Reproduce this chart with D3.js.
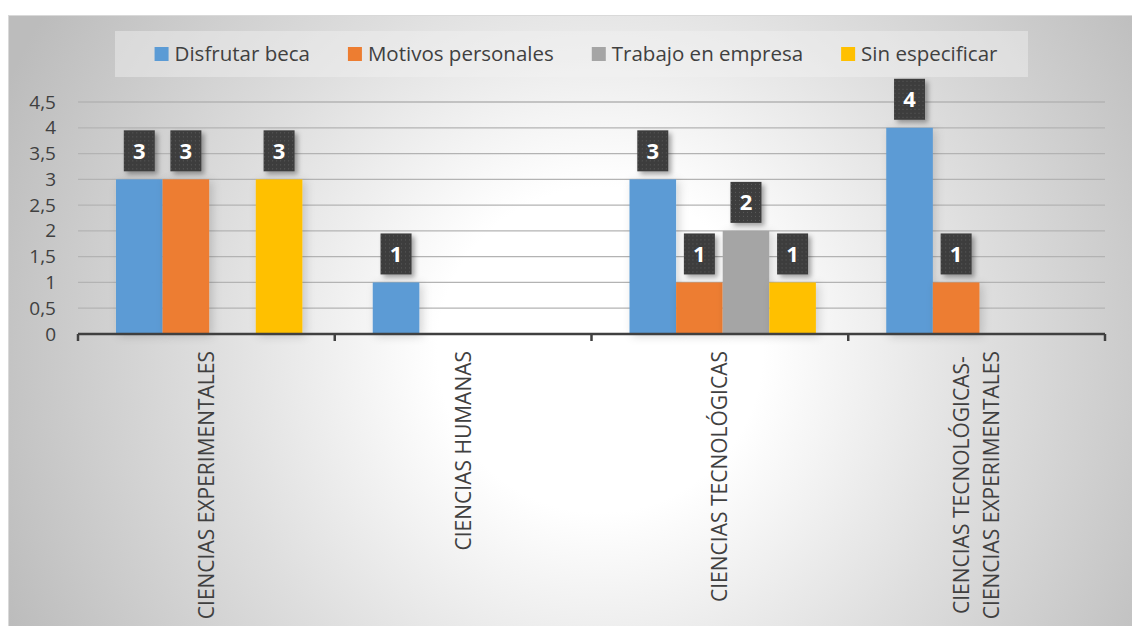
<!DOCTYPE html>
<html>
<head>
<meta charset="utf-8">
<script src="https://cdn.jsdelivr.net/npm/d3@7"></script>
<style>
  html, body { margin: 0; padding: 0; background: #fff; }
  svg { display: block; }
  text { font-family: "Open Sans", sans-serif; }
</style>
</head>
<body>
<div id="chart"></div>
<script>
// data
var categories = ["CIENCIAS EXPERIMENTALES", "CIENCIAS HUMANAS", "CIENCIAS TECNOLÓGICAS", "CIENCIAS TECNOLÓGICAS-CIENCIAS EXPERIMENTALES"];
var categoryLines = [["CIENCIAS EXPERIMENTALES"], ["CIENCIAS HUMANAS"], ["CIENCIAS TECNOLÓGICAS"], ["CIENCIAS TECNOLÓGICAS-", "CIENCIAS EXPERIMENTALES"]];
var seriesNames = ["Disfrutar beca", "Motivos personales", "Trabajo en empresa", "Sin especificar"];
var disfrutarBeca = [3, 1, 3, 4];
var motivosPersonales = [3, 0, 1, 1];
var trabajoEmpresa = [0, 0, 2, 0];
var sinEspecificar = [3, 0, 1, 0];
var seriesColors = ["#5B9BD5", "#ED7D31", "#A5A5A5", "#FFC000"];
var yTicks = [0, 0.5, 1, 1.5, 2, 2.5, 3, 3.5, 4, 4.5];

var seriesValues = [disfrutarBeca, motivosPersonales, trabajoEmpresa, sinEspecificar];

var width = 1132, height = 626;

var svg = d3.select("#chart").append("svg")
  .attr("width", width)
  .attr("height", height);

var defs = svg.append("defs");

// background gradient
var grad = defs.append("radialGradient")
  .attr("id", "bg")
  .attr("gradientUnits", "userSpaceOnUse")
  .attr("cx", 600).attr("cy", 350).attr("r", 650);
grad.append("stop").attr("offset", 0).attr("stop-color", "#ffffff");
grad.append("stop").attr("offset", 0.25).attr("stop-color", "#ffffff");
grad.append("stop").attr("offset", 0.6).attr("stop-color", "#dedede");
grad.append("stop").attr("offset", 1).attr("stop-color", "#bcbcbc");

// dotted pattern for the label boxes
var pat = defs.append("pattern")
  .attr("id", "dots")
  .attr("patternUnits", "userSpaceOnUse")
  .attr("width", 4).attr("height", 4);
pat.append("rect").attr("width", 4).attr("height", 4).attr("fill", "#3d3d3d");
pat.append("rect").attr("x", 1).attr("y", 1).attr("width", 1).attr("height", 1).attr("fill", "#5c5c5c");

var barShadow = defs.append("filter").attr("id", "barShadow")
  .attr("x", "-50%").attr("y", "-20%").attr("width", "200%").attr("height", "140%");
barShadow.append("feDropShadow")
  .attr("dx", 3).attr("dy", 2).attr("stdDeviation", 5)
  .attr("flood-color", "#000").attr("flood-opacity", 0.16);

var boxShadow = defs.append("filter").attr("id", "boxShadow")
  .attr("x", "-50%").attr("y", "-50%").attr("width", "200%").attr("height", "200%");
boxShadow.append("feDropShadow")
  .attr("dx", 3).attr("dy", 3).attr("stdDeviation", 2.5)
  .attr("flood-color", "#000").attr("flood-opacity", 0.35);

// chart area
svg.append("rect")
  .attr("x", 8).attr("y", 15)
  .attr("width", width - 8).attr("height", height - 15)
  .attr("fill", "url(#bg)");
svg.append("line")
  .attr("x1", 8).attr("x2", width).attr("y1", 15.5).attr("y2", 15.5)
  .attr("stroke", "#d9d9d9").attr("stroke-width", 1);
svg.append("line")
  .attr("x1", 8.5).attr("x2", 8.5).attr("y1", 15).attr("y2", height)
  .attr("stroke", "#d9d9d9").attr("stroke-width", 1);

var plotLeft = 78, plotRight = 1105, plotTop = 102, plotBottom = 334;

var x = d3.scaleBand()
  .domain(categories)
  .range([plotLeft, plotRight])
  .paddingInner(0).paddingOuter(0);

var xs = d3.scaleBand()
  .domain(seriesNames)
  .range([0, x.bandwidth()])
  .paddingInner(0).paddingOuter(0.755)
  .align(0.54);

var y = d3.scaleLinear()
  .domain([0, 4.5])
  .range([plotBottom, plotTop]);

// gridlines
svg.append("g").selectAll("line")
  .data(yTicks.filter(function (d) { return d > 0; }))
  .enter().append("line")
  .attr("x1", plotLeft).attr("x2", plotRight)
  .attr("y1", function (d) { return y(d); })
  .attr("y2", function (d) { return y(d); })
  .attr("stroke", "#b3b3b3").attr("stroke-width", 1.3);

// y axis labels
var yAxis = d3.axisLeft(y)
  .tickValues(yTicks)
  .tickSize(0)
  .tickPadding(0)
  .tickFormat(function (d) { return String(d).replace(".", ","); });
var yg = svg.append("g")
  .attr("transform", "translate(56,0)")
  .call(yAxis);
yg.select(".domain").remove();
yg.selectAll("text")
  .attr("font-size", 19)
  .attr("fill", "#404040")
  .style("font-family", "'Open Sans', sans-serif");

// flatten data
var barData = [];
categories.forEach(function (c, ci) {
  seriesNames.forEach(function (s, si) {
    barData.push({ cat: c, series: s, value: seriesValues[si][ci], color: seriesColors[si] });
  });
});
var shown = barData.filter(function (d) { return d.value > 0; });

// bars
svg.append("g").selectAll("rect")
  .data(shown)
  .enter().append("rect")
  .attr("x", function (d) { return x(d.cat) + xs(d.series); })
  .attr("y", function (d) { return y(d.value); })
  .attr("width", xs.bandwidth())
  .attr("height", function (d) { return y(0) - y(d.value); })
  .attr("fill", function (d) { return d.color; })
  .attr("filter", "url(#barShadow)");

// x axis line + ticks
svg.append("line")
  .attr("x1", plotLeft).attr("x2", plotRight)
  .attr("y1", plotBottom).attr("y2", plotBottom)
  .attr("stroke", "#404040").attr("stroke-width", 2.5);
var bounds = categories.map(function (c) { return x(c); }).concat([plotRight]);
svg.append("g").selectAll("line")
  .data(bounds)
  .enter().append("line")
  .attr("x1", function (d) { return d; }).attr("x2", function (d) { return d; })
  .attr("y1", plotBottom).attr("y2", plotBottom + 7)
  .attr("stroke", "#404040").attr("stroke-width", 2.5);

// data labels
var lbl = svg.append("g").selectAll("g")
  .data(shown)
  .enter().append("g")
  .attr("transform", function (d) {
    var cx = x(d.cat) + xs(d.series) + xs.bandwidth() / 2;
    return "translate(" + cx + "," + (y(d.value) - 8) + ")";
  });
lbl.append("rect")
  .attr("x", -15.5).attr("y", -41)
  .attr("width", 31).attr("height", 41)
  .attr("fill", "url(#dots)")
  .attr("filter", "url(#boxShadow)");
lbl.append("text")
  .attr("x", 0).attr("y", -12.5)
  .attr("text-anchor", "middle")
  .attr("font-size", 22)
  .attr("font-weight", "bold")
  .attr("fill", "#fff")
  .text(function (d) { return d.value; });

// category labels (rotated)
var xl = svg.append("g").selectAll("g")
  .data(categories)
  .enter().append("g")
  .attr("transform", function (d) { return "translate(" + (x(d) + x.bandwidth() / 2) + ",351) rotate(-90)"; });
xl.each(function (d, i) {
  var g = d3.select(this);
  var lines = categoryLines[i];
  var texts = lines.map(function (t, li) {
    return g.append("text")
      .attr("font-size", 21)
      .attr("fill", "#404040")
      .attr("dy", ((li - (lines.length - 1) / 2) * 30 + 7.5) + "px")
      .text(t);
  });
  var maxW = d3.max(texts, function (t) { return t.node().getComputedTextLength(); });
  texts.forEach(function (t) {
    t.attr("text-anchor", "middle").attr("x", -maxW / 2);
  });
});

// legend
var legend = svg.append("g");
legend.append("rect")
  .attr("x", 115).attr("y", 31)
  .attr("width", 913).attr("height", 46)
  .attr("fill", "#f2f2f2").attr("fill-opacity", 0.45);
var items = legend.selectAll("g")
  .data(seriesNames)
  .enter().append("g");
items.append("rect")
  .attr("width", 14).attr("height", 14)
  .attr("y", 47)
  .attr("fill", function (d, i) { return seriesColors[i]; });
items.append("text")
  .attr("x", 20).attr("y", 61)
  .attr("font-size", 20.5)
  .attr("fill", "#404040")
  .text(function (d) { return d; });
var gap = 38, pos = 0, offsets = [];
items.each(function () {
  var w = 20 + d3.select(this).select("text").node().getComputedTextLength();
  offsets.push(pos);
  pos += w + gap;
});
var total = pos - gap;
var start = 576 - total / 2;
items.attr("transform", function (d, i) { return "translate(" + (start + offsets[i]) + ",0)"; });
</script>
</body>
</html>
